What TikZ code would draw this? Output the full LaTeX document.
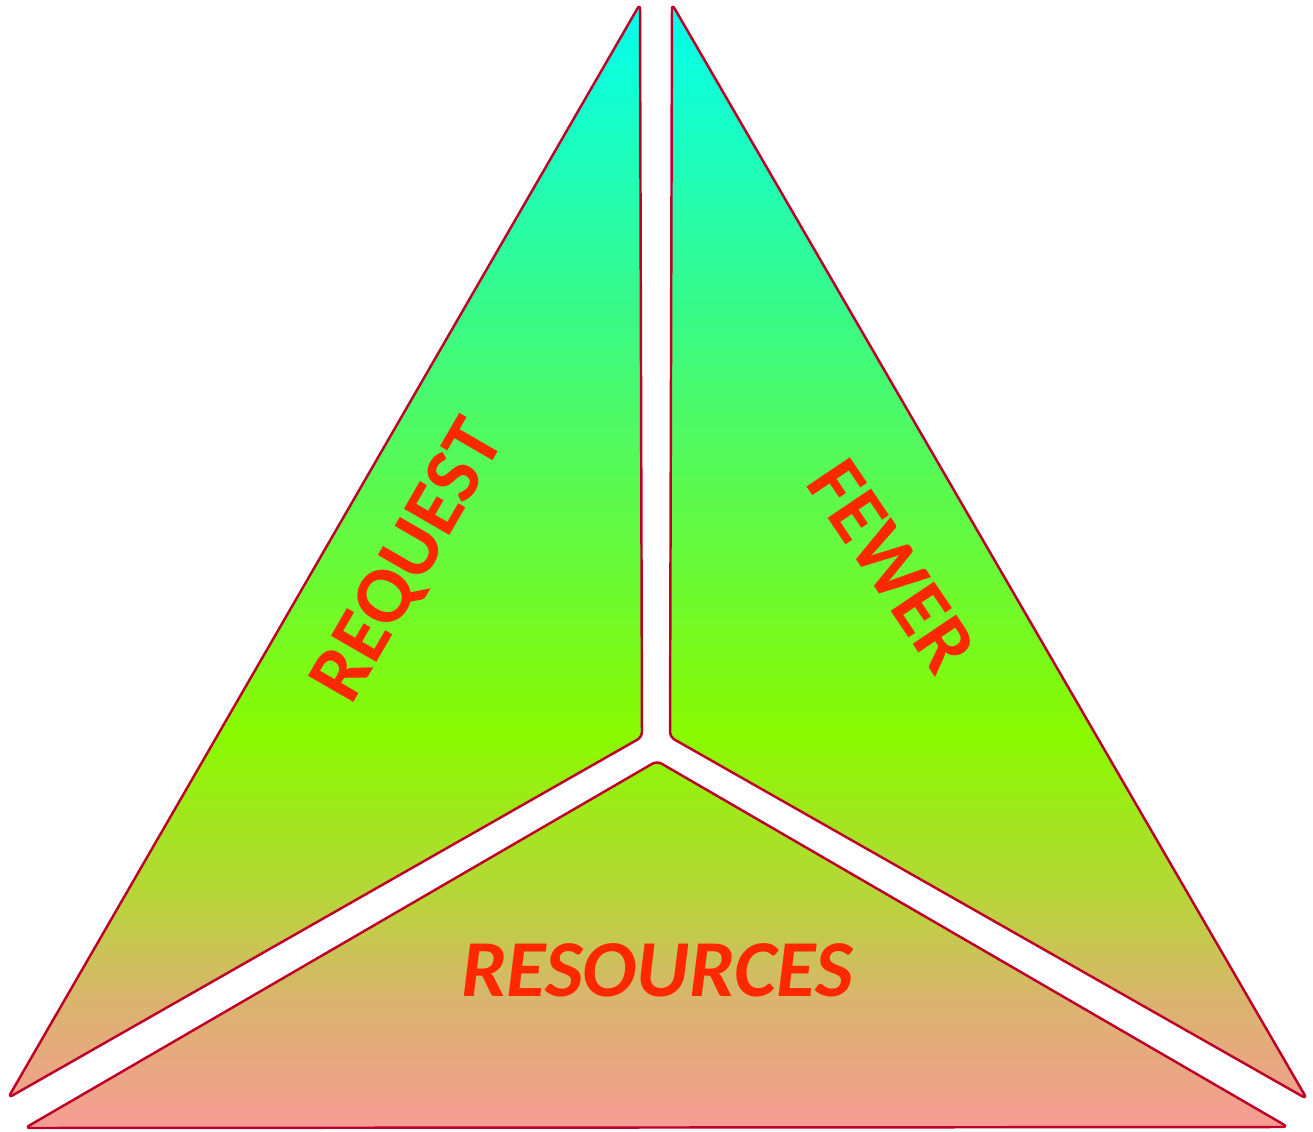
\documentclass[tikz,border=0pt]{standalone}
\usepackage{fontspec}
\setmainfont{Carlito}
\definecolor{tipcyan}{RGB}{0,255,240}
\definecolor{midsea}{RGB}{60,250,130}
\definecolor{limegreen}{RGB}{138,250,0}
\definecolor{olivegreen}{RGB}{185,212,60}
\definecolor{sandy}{RGB}{218,180,110}
\definecolor{basepink}{RGB}{247,155,150}
\definecolor{edgered}{RGB}{190,0,40}
\definecolor{wordred}{RGB}{255,40,0}
\pgfdeclareverticalshading{trishade}{100bp}{%
  color(0bp)=(basepink); color(25bp)=(basepink); color(30.8bp)=(sandy);
  color(35.2bp)=(olivegreen); color(42.5bp)=(limegreen);
  color(60.4bp)=(midsea); color(75bp)=(tipcyan); color(100bp)=(tipcyan)}
\begin{document}
\begin{tikzpicture}[x=0.02cm,y=-0.02cm]
  \tikzstyle{piece}=[draw=edgered,line width=1.4pt,rounded corners=3pt,line join=round];
  \tikzstyle{shadow}=[fill=black,opacity=0.12,rounded corners=3pt];
  \tikzstyle{word}=[text=wordred,font=\fontsize{46}{50}\selectfont\bfseries,inner sep=0pt];
  \useasboundingbox (0,0) rectangle (1313,1132);
  % corners of the three pieces
  \coordinate (ltop) at (640,4);
  \coordinate (lin) at (642,737);
  \coordinate (lout) at (8,1098);
  \coordinate (rtop) at (672,4);
  \coordinate (rin) at (670,737);
  \coordinate (rout) at (1307,1099);
  \coordinate (btop) at (657,761);
  \coordinate (bleft) at (25,1128);
  \coordinate (bright) at (1288,1127);
  % soft shadows
  \fill[shadow,xshift=0.08cm,yshift=-0.08cm] (ltop) -- (lin) -- (lout) -- cycle;
  \fill[shadow,xshift=0.08cm,yshift=-0.08cm] (rtop) -- (rin) -- (rout) -- cycle;
  \fill[shadow,xshift=0.08cm,yshift=-0.08cm] (btop) -- (bright) -- (bleft) -- cycle;
  % shaded pieces
  \begin{scope}
    \clip[rounded corners=3pt] (ltop) -- (lin) -- (lout) -- cycle;
    \shade[shading=trishade] (0,0) rectangle (1313,1132);
  \end{scope}
  \begin{scope}
    \clip[rounded corners=3pt] (rtop) -- (rin) -- (rout) -- cycle;
    \shade[shading=trishade] (0,0) rectangle (1313,1132);
  \end{scope}
  \begin{scope}
    \clip[rounded corners=3pt] (btop) -- (bright) -- (bleft) -- cycle;
    \shade[shading=trishade] (0,0) rectangle (1313,1132);
  \end{scope}
  \draw[piece] (ltop) -- (lin) -- (lout) -- cycle;
  \draw[piece] (rtop) -- (rin) -- (rout) -- cycle;
  \draw[piece] (btop) -- (bright) -- (bleft) -- cycle;
  % labels
  \node[word,rotate=60] (request) at (410,562) {REQUEST};
  \node[word,rotate=-56] (fewer) at (892,566) {FEWER};
  \node[word,font=\fontsize{46}{50}\selectfont\bfseries\itshape] (resources) at (657,970) {RESOURCES};
\end{tikzpicture}
\end{document}
